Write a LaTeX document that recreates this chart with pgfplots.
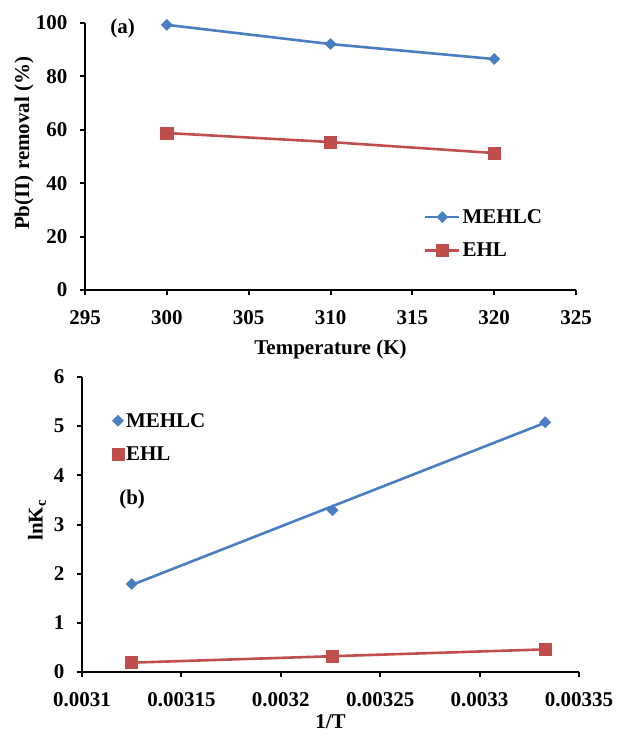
\documentclass[border=0pt]{standalone}
\usepackage{fontspec}
\setmainfont{Liberation Serif}
\usepackage{pgfplots}
\pgfplotsset{compat=1.18}
\definecolor{mblue}{RGB}{74,126,193}
\definecolor{mred}{RGB}{192,78,76}
\newcommand{\ff}{\fontsize{21}{24}\selectfont\bfseries}
\begin{document}
\begin{tikzpicture}
\path[use as bounding box] (0pt,0pt) rectangle (618pt,736pt);
\pgfplotsset{
  every axis/.append style={
    scale only axis, anchor=south west,
    axis x line=bottom, axis y line=left,
    axis line style={line width=2pt,-,black},
    every tick/.style={line width=2pt,black},
    major tick length=5pt,
    tick align=outside,
    /pgf/number format/assume math mode=true,
    tick label style={font=\ff},
    label style={font=\ff},
    xticklabel style={yshift=-12pt},
    yticklabel style={xshift=-9pt},
    clip=false,
    legend cell align=left,
  }
}
\begin{axis}[at={(85pt,446pt)}, width=491pt, height=267pt,
  xmin=295, xmax=325, ymin=0, ymax=100,
  xtick={295,300,...,325}, ytick={0,20,...,100},
  xlabel={Temperature (K)}, ylabel={Pb(II) removal (\%)},
  xlabel style={at={(axis description cs:0.5,0)}, anchor=center, yshift=-59pt},
  ylabel style={at={(axis description cs:0,0.55)}, anchor=center, yshift=61pt},
  legend style={at={(rel axis cs:0.69,0.31)}, anchor=north west, draw=none, fill=none, font=\ff, inner sep=0pt, row sep=14pt},
  legend image code/.code={\draw[mark repeat=2,mark phase=2,#1] plot coordinates {(0pt,0pt) (17pt,0pt) (34pt,0pt)};},
]
\addplot[mblue, line width=2.6pt, mark=square*, mark size=3.9pt, mark options={rotate=45, solid, fill=mblue, line width=0.5pt}]
  coordinates {(300,99.3) (310,92.1) (320,86.5)};
\addlegendentry{MEHLC}
\addplot[mred, line width=2.6pt, mark=square*, mark size=6.2pt, mark options={solid, fill=mred, line width=0.5pt}]
  coordinates {(300,58.8) (310,55.4) (320,51.3)};
\addlegendentry{EHL}
\node[font=\ff] at (axis cs:297.3,97.8) {(a)};
\end{axis}

\begin{axis}[at={(82pt,64pt)}, width=497pt, height=295pt,
  xmin=0.0031, xmax=0.00335, ymin=0, ymax=6,
  scaled x ticks=false,
  xtick={0.0031,0.00315,0.0032,0.00325,0.0033,0.00335},
  xticklabels={0.0031,0.00315,0.0032,0.00325,0.0033,0.00335},
  ytick={0,1,...,6},
  xlabel={1/T}, ylabel={lnK\textsubscript{c}},
  xlabel style={at={(axis description cs:0.5,0)}, anchor=center, yshift=-50pt},
  ylabel style={at={(axis description cs:0,0.515)}, anchor=center, yshift=45pt},
  legend style={at={(rel axis cs:0.06,0.885)}, anchor=north west, draw=none, fill=none, font=\ff, inner sep=0pt, row sep=14pt},
  legend image code/.code={\draw[#1] plot coordinates {(5pt,0pt)};},
]
\addplot[only marks, mark=square*, mark size=3.9pt, mark options={rotate=45, fill=mblue, draw=mblue, line width=0.5pt}]
  coordinates {(0.003125,1.79) (0.003226,3.29) (0.003333,5.08)};
\addlegendentry{MEHLC}
\addplot[only marks, mark=square*, mark size=6pt, mark options={fill=mred, draw=mred, line width=0.5pt}]
  coordinates {(0.003125,0.20) (0.003226,0.32) (0.003333,0.47)};
\addlegendentry{EHL}
\addplot[mblue, line width=2.6pt, forget plot] coordinates {(0.003125,1.77) (0.003333,5.07)};
\addplot[mred, line width=2.6pt, forget plot] coordinates {(0.003125,0.19) (0.003333,0.46)};
\node[font=\ff] at (axis cs:0.0031252,3.5) {(b)};
\end{axis}
\end{tikzpicture}
\end{document}
